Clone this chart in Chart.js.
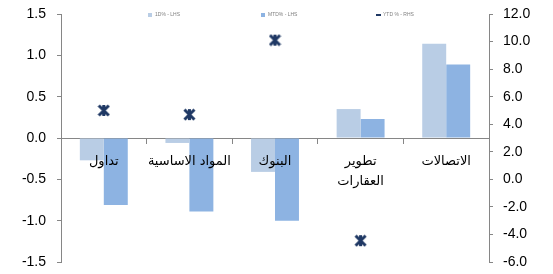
<!DOCTYPE html>
<html>
<head>
<meta charset="utf-8">
<script src="https://cdn.jsdelivr.net/npm/chart.js@4.4.1/dist/chart.umd.min.js"></script>
<style>
  body { margin: 0; background: #fff; }
  #wrap { width: 553px; height: 274px; }
</style>
</head>
<body>
<div id="wrap"><canvas id="c" width="553" height="274"></canvas></div>
<script>
// sector names (x axis) and the three series
const sectors = ['تداول', 'المواد الاساسية', 'البنوك', ['تطوير', 'العقارات'], 'الاتصالات'];
const oneDay = [-0.27, -0.06, -0.41, 0.35, 1.14];
const monthToDate = [-0.81, -0.89, -1.00, 0.23, 0.89];
const yearToDate = [5.0, 4.7, 10.1, -4.45, null];
const seriesNames = ['1D% - LHS', 'MTD% - LHS', 'YTD % - RHS'];

const navy = '#1f3864';

// excel style star marker: X with a vertical stroke
const makeStar = () => {
    const cv = document.createElement('canvas');
    cv.width = 13; cv.height = 13;
    const g = cv.getContext('2d');
    g.strokeStyle = navy;
    g.lineWidth = 3;
    g.beginPath();
    g.moveTo(1.5, 1.5); g.lineTo(11.5, 11.5);
    g.moveTo(11.5, 1.5); g.lineTo(1.5, 11.5);
    g.moveTo(6.5, 1); g.lineTo(6.5, 12);
    g.stroke();
    return cv;
};

// small legend drawn over the top of the plot like the original
const topLegend = {
    id: 'topLegend',
    afterDraw(chart) {
        const ctx = chart.ctx;
        const xs = [148, 261, 376];
        ctx.save();
        ctx.font = '5px "Liberation Sans"';
        ctx.textBaseline = 'middle';
        chart.data.datasets.forEach((ds, i) => {
            const x = xs[i], y = 15;
            if (i < 2) {
                ctx.fillStyle = ds.backgroundColor;
                ctx.fillRect(x, y - 2, 4, 4);
            } else {
                ctx.fillStyle = navy;
                ctx.fillRect(x, y - 1, 5, 2);
            }
            ctx.fillStyle = '#7f7f7f';
            ctx.fillText(ds.label, x + 7, y);
        });
        ctx.restore();
    }
};

const axisGrey = '#868686';

const fitY = (w) => (s) => {
    s.width = w;
    s.paddingTop = 0;
    s.paddingBottom = 0;
};

new Chart(document.getElementById('c').getContext('2d'), {
    type: 'bar',
    data: {
        labels: sectors,
        datasets: [
            {
                label: seriesNames[0],
                data: oneDay,
                backgroundColor: '#b9cde5',
                yAxisID: 'y',
                categoryPercentage: 0.56,
                barPercentage: 1.0,
                order: 2
            },
            {
                label: seriesNames[1],
                data: monthToDate,
                backgroundColor: '#8db3e2',
                yAxisID: 'y',
                categoryPercentage: 0.56,
                barPercentage: 1.0,
                order: 2
            },
            {
                type: 'line',
                label: seriesNames[2],
                data: yearToDate,
                yAxisID: 'y1',
                showLine: false,
                pointStyle: makeStar(),
                pointRadius: 7,
                borderColor: navy,
                backgroundColor: navy,
                order: 1
            }
        ]
    },
    options: {
        responsive: false,
        animation: false,
        layout: { padding: { top: 14, bottom: 12, left: 0, right: 0 } },
        plugins: {
            legend: { display: false },
            tooltip: { enabled: false }
        },
        scales: {
            x: {
                position: { y: 0 },
                afterFit: (s) => { s.height = 0; s.paddingLeft = 0; s.paddingRight = 0; },
                grid: { drawOnChartArea: false, drawTicks: true, tickLength: 5, color: axisGrey, offset: true },
                border: { display: true, color: axisGrey, width: 1 },
                ticks: {
                    z: 1,
                    autoSkip: false,
                    maxRotation: 0,
                    padding: 9,
                    color: '#000',
                    font: { family: '"DejaVu Sans"', size: 13, lineHeight: 1.5 }
                }
            },
            y: {
                position: 'left',
                min: -1.5,
                max: 1.5,
                afterFit: fitY(61),
                grid: { drawOnChartArea: false, tickLength: 4, color: axisGrey },
                border: { display: true, color: axisGrey },
                ticks: {
                    stepSize: 0.5,
                    padding: 11,
                    color: '#000',
                    font: { family: '"Liberation Sans"', size: 14 },
                    callback: (v) => v.toFixed(1)
                }
            },
            y1: {
                position: 'right',
                min: -6,
                max: 12,
                afterFit: fitY(64),
                grid: { drawOnChartArea: false, tickLength: 4, color: axisGrey },
                border: { display: true, color: axisGrey },
                ticks: {
                    stepSize: 2,
                    padding: 10,
                    color: '#000',
                    font: { family: '"Liberation Sans"', size: 14 },
                    callback: (v) => v.toFixed(1)
                }
            }
        }
    },
    plugins: [topLegend]
});
</script>
</body>
</html>
